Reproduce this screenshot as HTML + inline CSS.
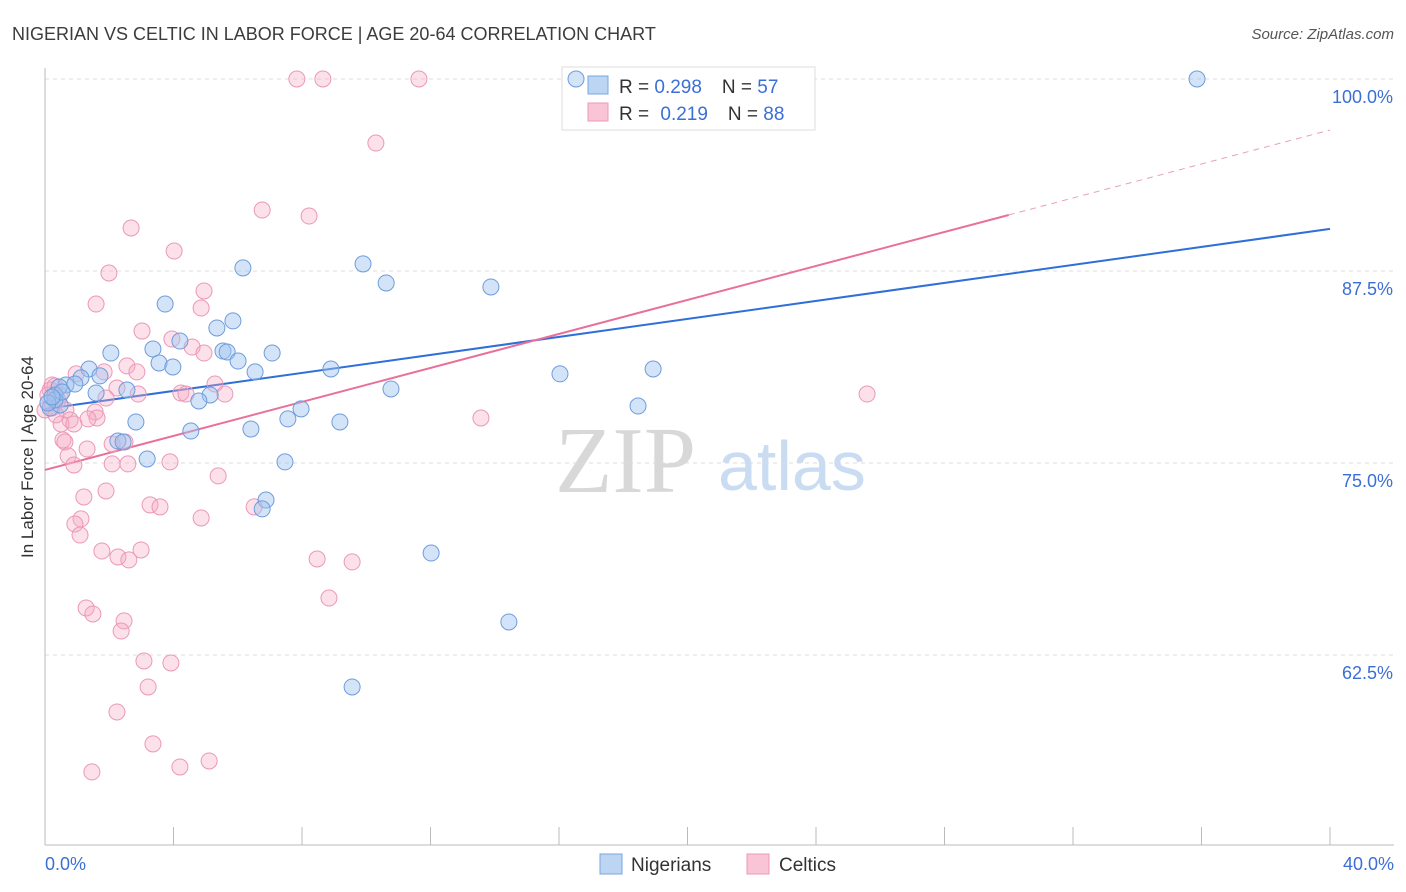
<!DOCTYPE html>
<html><head><meta charset="utf-8"><style>
body{margin:0;background:#fff;font-family:"Liberation Sans",sans-serif;}
#wrap{position:relative;width:1406px;height:892px;overflow:hidden;}
</style></head><body>
<div id="wrap">
<svg id="svg" width="1406" height="892">
<text x="12" y="40" font-size="18" fill="#3c3c3c">NIGERIAN VS CELTIC IN LABOR FORCE | AGE 20-64 CORRELATION CHART</text>
<text x="1394" y="39" font-size="15" fill="#555" font-style="italic" text-anchor="end">Source: ZipAtlas.com</text>
<text x="33" y="457" font-size="17" fill="#333" text-anchor="middle" transform="rotate(-90 33 457)">In Labor Force | Age 20-64</text>
<text x="555" y="492" font-size="94" fill="#d8d8d8" font-family="Liberation Serif,serif">ZIP</text>
<text x="718" y="490" font-size="70" fill="#c9dcf2">atlas</text>
<g id="grid"></g><g id="axes"></g>
<rect x="562" y="67" width="253" height="63" fill="#fff" stroke="#ddd"/>
<rect x="588" y="76" width="20" height="18" fill="#bcd5f3" stroke="#7aa6de"/>
<rect x="588" y="103" width="20" height="18" fill="#f8c4d6" stroke="#ee9ab8"/>
<text x="619" y="93" font-size="19" fill="#333">R = <tspan fill="#3b6fd6">0.298</tspan><tspan dx="20">N = </tspan><tspan fill="#3b6fd6">57</tspan></text>
<text x="619" y="120" font-size="19" fill="#333">R = <tspan fill="#3b6fd6" dx="6">0.219</tspan><tspan dx="20">N = </tspan><tspan fill="#3b6fd6">88</tspan></text>
<g id="lines"></g><g id="pts"></g>
<rect x="600" y="854" width="22" height="20" fill="#bcd5f3" stroke="#7aa6de"/>
<text x="631" y="871" font-size="19" fill="#333">Nigerians</text>
<rect x="747" y="854" width="22" height="20" fill="#f8c4d6" stroke="#ee9ab8"/>
<text x="779" y="871" font-size="19" fill="#333">Celtics</text>
<text x="45" y="870" font-size="18" fill="#3b6fd6">0.0%</text>
<text x="1394" y="870" font-size="18" fill="#3b6fd6" text-anchor="end">40.0%</text>
</svg>
</div>
<script>
const yTicks=[100,87.5,75,62.5];
const yTickLabels=["100.0%","87.5%","75.0%","62.5%"];
const xTicks=[0,4,8,12,16,20,24,28,32,36,40];
const blueX=[16.53,35.86,6.16,9.90,10.62,13.88,3.74,5.85,5.35,4.20,3.36,2.05,5.54,5.67,7.07,6.01,3.55,3.98,8.90,6.54,1.37,1.71,1.12,0.65,0.93,0.44,2.55,1.59,10.77,5.14,4.79,7.97,7.56,9.18,2.83,4.54,6.41,2.27,2.43,3.18,7.47,6.88,6.76,12.02,14.44,9.56,16.03,18.93,18.46,0.31,0.16,0.47,0.31,0.09,0.53,0.22];
const blueY=[100,100,87.70,87.96,86.72,86.46,85.35,84.25,83.79,82.94,82.42,82.16,82.29,82.23,82.16,81.64,81.51,81.25,81.12,80.93,81.12,80.67,80.54,80.08,80.14,79.95,79.75,79.56,79.82,79.43,79.04,78.52,77.87,77.67,77.67,77.08,77.21,76.43,76.37,75.26,75.07,72.59,72.01,69.14,64.65,60.42,80.80,81.12,78.71,79.43,78.58,78.78,79.10,78.91,79.62,79.30];
const pinkX=[7.84,8.65,11.64,10.30,6.76,8.22,2.68,4.02,1.99,4.95,1.59,4.86,3.02,3.95,4.58,4.95,2.55,1.84,0.97,2.86,5.29,4.23,4.39,5.60,2.24,2.90,1.90,0.31,0.16,0.47,0.65,1.56,1.62,0.78,1.34,0.50,0.90,0.56,0.62,2.49,2.09,1.31,0.72,3.89,0.90,2.09,2.58,5.39,1.90,1.21,3.27,3.58,6.51,4.86,1.12,0.93,1.09,1.77,2.27,2.61,2.99,8.47,9.56,8.84,1.28,1.49,2.46,2.37,3.08,3.92,3.21,2.24,3.36,4.20,5.11,1.46,13.57,25.59,0.09,0.22,0.40,0.00,0.22,0.34];
const pinkY=[100,100,100,95.83,91.47,91.08,90.30,88.80,87.37,86.20,85.35,85.09,83.59,83.07,82.55,82.16,81.32,80.93,80.80,80.93,80.14,79.56,79.49,79.49,79.88,79.49,79.23,80.01,79.75,79.43,78.45,78.32,77.93,77.80,77.87,77.54,77.54,76.50,76.37,76.37,76.24,75.91,75.46,75.07,74.87,74.94,74.94,74.16,73.18,72.79,72.27,72.14,72.14,71.42,71.36,71.03,70.31,69.27,68.88,68.69,69.34,68.75,68.56,66.21,65.56,65.17,64.72,64.06,62.11,61.98,60.42,58.79,56.71,55.21,55.60,54.89,77.93,79.49,79.43,80.08,79.10,78.45,78.58,78.13];
const blueTrend=[78.52,90.24];
const pinkTrend=[74.55,96.68];
const pinkSolidEnd=30;
const NS="http://www.w3.org/2000/svg";
const X=v=>45+v/40*1285;
const Y=v=>79+(100-v)*15.36;
function mk(tag,attrs,parent){const e=document.createElementNS(NS,tag);for(const k in attrs)e.setAttribute(k,attrs[k]);document.getElementById(parent).appendChild(e);return e;}
yTicks.forEach((t,i)=>{
 const l=mk('line',{x1:45,x2:1394,y1:Y(t),y2:Y(t),stroke:'#dcdcdc','stroke-dasharray':'4,4'},'grid');
 
 
 const tx=mk('text',{x:1393,y:Y(t)+24,'font-size':18,fill:'#3b6fd6','text-anchor':'end'},'grid');
 tx.textContent=yTickLabels[i];
 
 
});
const ya=mk('line',{x1:45,x2:45,y1:68,y2:845,stroke:'#bbb'},'axes');


const xa=mk('line',{x1:45,x2:1394,y1:845,y2:845,stroke:'#bbb'},'axes');


xTicks.forEach(t=>{
 const l=mk('line',{x1:X(t),x2:X(t),y1:827,y2:845,stroke:'#bbb'},'axes');
 
 
});
const bl=mk('line',{x1:X(0),y1:Y(blueTrend[0]),x2:X(40),y2:Y(blueTrend[1]),stroke:'#2f6fd8','stroke-width':2},'lines');


const pe=pinkTrend[0]+(pinkTrend[1]-pinkTrend[0])*pinkSolidEnd/40;
const pl=mk('line',{x1:X(0),y1:Y(pinkTrend[0]),x2:X(pinkSolidEnd),y2:Y(pe),stroke:'#e8709a','stroke-width':2},'lines');


const pd=mk('line',{x1:X(pinkSolidEnd),y1:Y(pe),x2:X(40),y2:Y(pinkTrend[1]),stroke:'#e8a0ba','stroke-width':1,'stroke-dasharray':'6,5'},'lines');


pinkX.forEach((x,i)=>{
 const c=mk('circle',{cx:X(x),cy:Y(pinkY[i]),r:8,fill:'rgba(245,170,196,0.35)',stroke:'#eb98b6','stroke-width':1},'pts');
 
 
});
blueX.forEach((x,i)=>{
 const c=mk('circle',{cx:X(x),cy:Y(blueY[i]),r:8,fill:'rgba(160,195,240,0.45)',stroke:'#6e9cdb','stroke-width':1},'pts');
 
 
});
</script>
</body></html>
